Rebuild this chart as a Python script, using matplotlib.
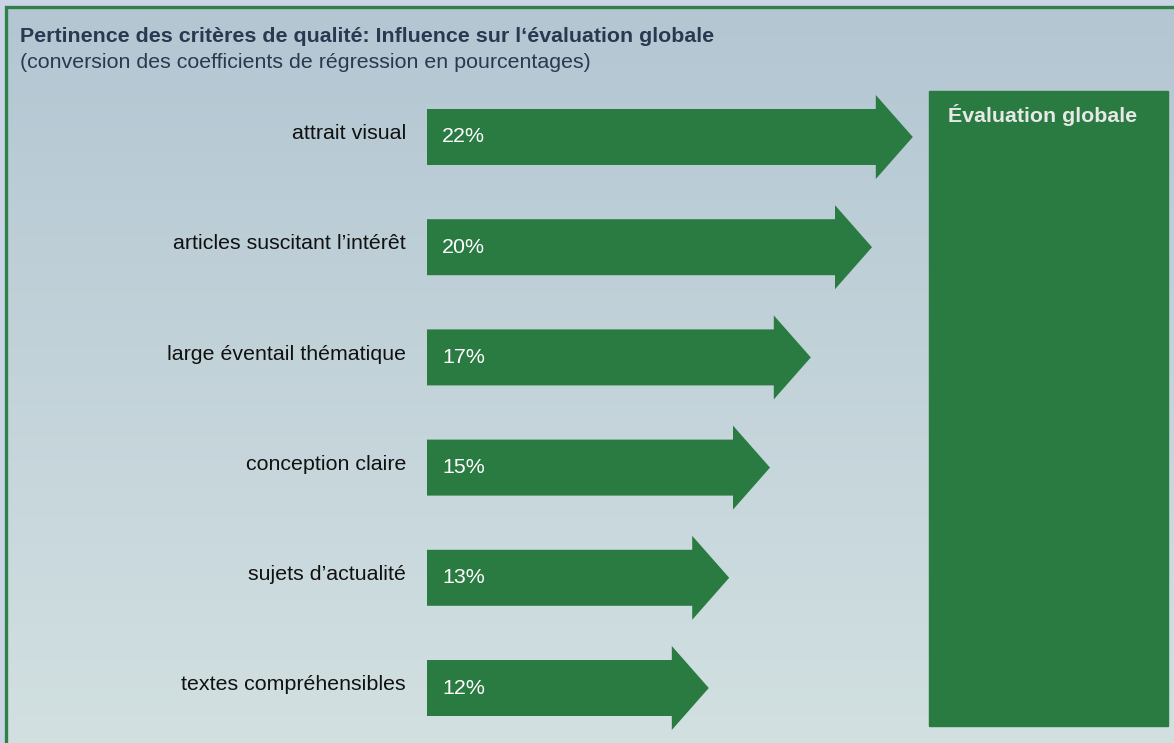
import numpy as np
import matplotlib.pyplot as plt
from matplotlib.patches import Polygon, Rectangle
from matplotlib.colors import to_rgb

# Quality criteria and their share of influence on the overall rating (%)
criteria = [
    "attrait visual",
    "articles suscitant l\u2019intérêt",
    "large éventail thématique",
    "conception claire",
    "sujets d\u2019actualité",
    "textes compréhensibles",
]
influence = [22, 20, 17, 15, 13, 12]
value_labels = ["22%", "20%", "17%", "15%", "13%", "12%"]

title = "Pertinence des critères de qualité: Influence sur l\u2018évaluation globale"
subtitle = "(conversion des coefficients de régression en pourcentages)"
target_label = "Évaluation globale"

GREEN = "#2a7b42"
BORDER = "#2f8049"
TITLE_COLOR = "#2a3851"
OUTER_BG = "#c9d5e6"
GRAD_TOP = "#b3c6d2"
GRAD_BOTTOM = "#d2e0e1"
FS = 15.4

plt.rcParams["font.family"] = ["Liberation Sans", "DejaVu Sans"]

W, H = 1174, 743
fig = plt.figure(figsize=(W / 100, H / 100), dpi=100)

# Background layer in pixel coordinates
bg = fig.add_axes([0, 0, 1, 1])
bg.set_xlim(0, W)
bg.set_ylim(H, 0)
bg.axis("off")
bg.add_patch(Rectangle((0, 0), W, H, color=OUTER_BG, zorder=0))

top = np.array(to_rgb(GRAD_TOP))
bot = np.array(to_rgb(GRAD_BOTTOM))
t = np.linspace(0, 1, 256)[:, None, None]
grad = top * (1 - t) + bot * t
grad = np.repeat(grad, 2, axis=1)
bg.imshow(grad, extent=(6, W + 2, H + 2, 7), aspect="auto", zorder=1,
          interpolation="bilinear")
bg.plot([6, 6, W + 5], [H + 5, 7, 7], color=BORDER, lw=2.4,
        solid_joinstyle="miter", zorder=2)
bg.set_xlim(0, W)
bg.set_ylim(H, 0)

bg.text(20, 36, title, fontsize=FS, fontweight="bold", color=TITLE_COLOR,
        va="center", ha="left", zorder=3)
bg.text(20, 62, subtitle, fontsize=FS, color=TITLE_COLOR,
        va="center", ha="left", zorder=3)

# Target box
bg.add_patch(Rectangle((929, 91), 1168 - 929, 726 - 91, color=GREEN, zorder=2))
bg.text(948, 115, target_label, fontsize=FS, fontweight="bold",
        color="#e6e9e7", va="center", ha="left", zorder=3)

# Arrow layer: x in percent, y in row index
px_per_pct = 20.4
left_px = 427
row0_px, row_step = 137.0, 110.2
ax = fig.add_axes([left_px / W, 0, 1 - left_px / W, 1])
ax.set_xlim(0, (W - left_px) / px_per_pct)
ax.set_ylim((H - row0_px) / row_step, (0 - row0_px) / row_step)
ax.axis("off")
ax.patch.set_alpha(0)

shaft_half = 28 / row_step
head_half = 42 / row_step
head_len = 37 / px_per_pct

for i, (name, v, lab) in enumerate(zip(criteria, influence, value_labels)):
    pts = [(0, i - shaft_half), (v, i - shaft_half), (v, i - head_half),
           (v + head_len, i), (v, i + head_half), (v, i + shaft_half),
           (0, i + shaft_half)]
    ax.add_patch(Polygon(pts, closed=True, facecolor=GREEN, edgecolor="none",
                         zorder=2))
    ax.text(15 / px_per_pct, i, lab, color="white", fontsize=FS,
            va="center", ha="left", zorder=3)
    ax.text(-21 / px_per_pct, i - 0.03, name, color="#111111", fontsize=FS,
            va="center", ha="right", zorder=3, clip_on=False)

fig.savefig("out.png", dpi=100)
